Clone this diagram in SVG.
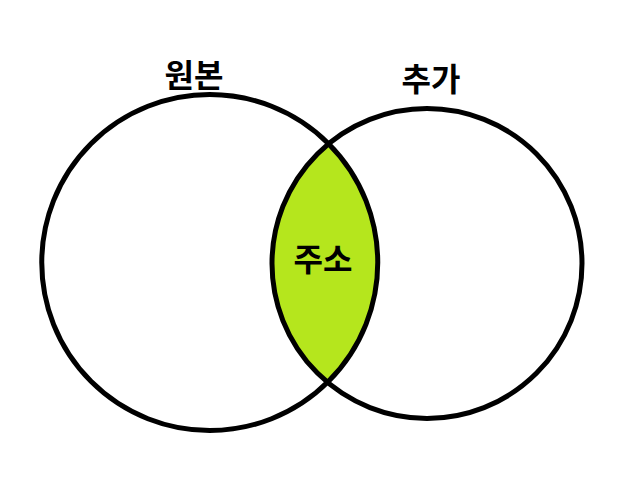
<svg xmlns="http://www.w3.org/2000/svg" width="642" height="494" viewBox="0 0 642 494">
<style>
.c{fill:none;stroke:#000;stroke-width:5}
.t{font-family:"Noto Sans CJK KR","Noto Sans",sans-serif;font-weight:bold;font-size:32px;fill:#000;text-anchor:middle}
</style>
<rect width="642" height="494" fill="#fff"/>
<g id="lens">
<path d="M328 143.2 A155 155 0 0 0 328 381.8 A168 168 0 0 0 328 143.2 Z" fill="#b5e61d"/>
</g>
<g id="original">
<circle class="c" cx="209.75" cy="262.5" r="168"/>
<text class="t" x="194" y="87">원본</text>
</g>
<g id="added">
<circle class="c" cx="427" cy="263.5" r="155"/>
<text class="t" x="431" y="91">추가</text>
</g>
<g id="intersection">
<text class="t" x="323" y="271">주소</text>
</g>
</svg>
